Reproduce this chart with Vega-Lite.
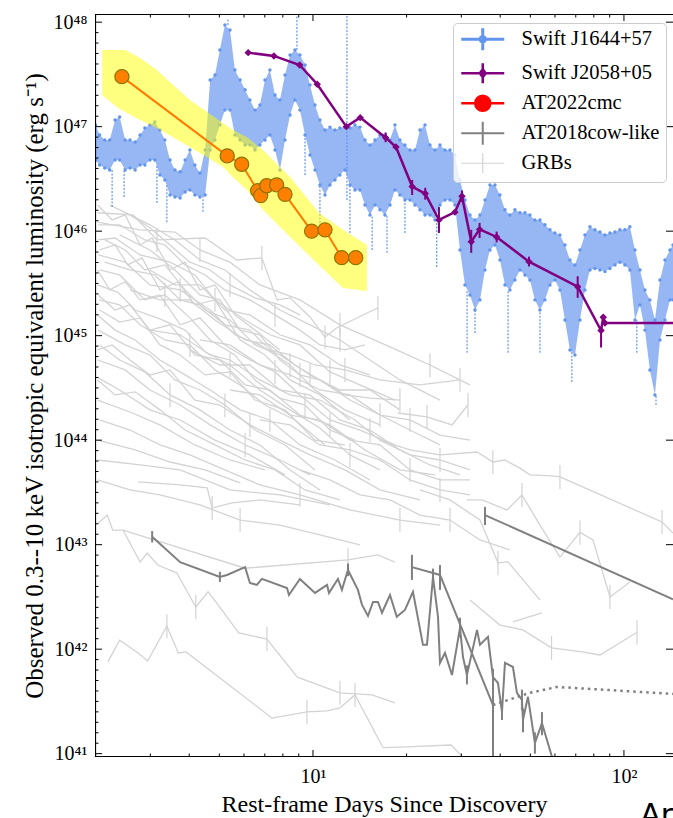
{
"$schema": "https://vega.github.io/schema/vega-lite/v6.json",
"width": 578, "height": 743,
"autosize": {"type": "none"},
"padding": {"left": 95, "top": 14, "right": 0, "bottom": 61},
"background": "white",
"title": {"text": "Ar", "orient": "bottom", "anchor": "end", "frame": "group", "font": "DejaVu Sans", "fontSize": 30, "fontWeight": "normal", "color": "#000", "offset": -15, "baseline": "top"},
"config": {
  "view": {"stroke": null},
  "axis": {"domain": false, "ticks": false, "labelColor": "#000", "titleColor": "#000", "labelFont": "Liberation Serif", "titleFont": "Liberation Serif", "grid": false, "titleFontWeight": "normal", "labelFontSize": 20, "titleFontSize": 24, "labelFlush": false, "labelOverlap": false}
},
"datasets": {
  "frame": [
    {"k":0,"t":143.8,"L":9.29e40},{"k":1,"t":1.991,"L":9.29e40},{"k":2,"t":1.991,"L":1.197e48},{"k":3,"t":143.8,"L":1.197e48}
  ],
  "hticks": [
    {"y":1e41,"x1":1.991,"x2":2.097},{"y":1e42,"x1":1.991,"x2":2.097},{"y":1e43,"x1":1.991,"x2":2.097},{"y":1e44,"x1":1.991,"x2":2.097},{"y":1e45,"x1":1.991,"x2":2.097},{"y":1e46,"x1":1.991,"x2":2.097},{"y":1e47,"x1":1.991,"x2":2.097},{"y":1e48,"x1":1.991,"x2":2.097},
    {"y":1e41,"x1":136.5,"x2":143.8},{"y":1e42,"x1":136.5,"x2":143.8},{"y":1e43,"x1":136.5,"x2":143.8},{"y":1e44,"x1":136.5,"x2":143.8},{"y":1e45,"x1":136.5,"x2":143.8},{"y":1e46,"x1":136.5,"x2":143.8},{"y":1e47,"x1":136.5,"x2":143.8},{"y":1e48,"x1":136.5,"x2":143.8},
    {"y":1.2589e41,"x1":1.991,"x2":2.043},{"y":1.5849e41,"x1":1.991,"x2":2.043},{"y":1.9953e41,"x1":1.991,"x2":2.043},{"y":2.5119e41,"x1":1.991,"x2":2.043},{"y":3.1623e41,"x1":1.991,"x2":2.043},{"y":3.9811e41,"x1":1.991,"x2":2.043},{"y":5.0119e41,"x1":1.991,"x2":2.043},{"y":6.3096e41,"x1":1.991,"x2":2.043},{"y":7.9433e41,"x1":1.991,"x2":2.043},
    {"y":1.2589e42,"x1":1.991,"x2":2.043},{"y":1.5849e42,"x1":1.991,"x2":2.043},{"y":1.9953e42,"x1":1.991,"x2":2.043},{"y":2.5119e42,"x1":1.991,"x2":2.043},{"y":3.1623e42,"x1":1.991,"x2":2.043},{"y":3.9811e42,"x1":1.991,"x2":2.043},{"y":5.0119e42,"x1":1.991,"x2":2.043},{"y":6.3096e42,"x1":1.991,"x2":2.043},{"y":7.9433e42,"x1":1.991,"x2":2.043},
    {"y":1.2589e43,"x1":1.991,"x2":2.043},{"y":1.5849e43,"x1":1.991,"x2":2.043},{"y":1.9953e43,"x1":1.991,"x2":2.043},{"y":2.5119e43,"x1":1.991,"x2":2.043},{"y":3.1623e43,"x1":1.991,"x2":2.043},{"y":3.9811e43,"x1":1.991,"x2":2.043},{"y":5.0119e43,"x1":1.991,"x2":2.043},{"y":6.3096e43,"x1":1.991,"x2":2.043},{"y":7.9433e43,"x1":1.991,"x2":2.043},
    {"y":1.2589e44,"x1":1.991,"x2":2.043},{"y":1.5849e44,"x1":1.991,"x2":2.043},{"y":1.9953e44,"x1":1.991,"x2":2.043},{"y":2.5119e44,"x1":1.991,"x2":2.043},{"y":3.1623e44,"x1":1.991,"x2":2.043},{"y":3.9811e44,"x1":1.991,"x2":2.043},{"y":5.0119e44,"x1":1.991,"x2":2.043},{"y":6.3096e44,"x1":1.991,"x2":2.043},{"y":7.9433e44,"x1":1.991,"x2":2.043},
    {"y":1.2589e45,"x1":1.991,"x2":2.043},{"y":1.5849e45,"x1":1.991,"x2":2.043},{"y":1.9953e45,"x1":1.991,"x2":2.043},{"y":2.5119e45,"x1":1.991,"x2":2.043},{"y":3.1623e45,"x1":1.991,"x2":2.043},{"y":3.9811e45,"x1":1.991,"x2":2.043},{"y":5.0119e45,"x1":1.991,"x2":2.043},{"y":6.3096e45,"x1":1.991,"x2":2.043},{"y":7.9433e45,"x1":1.991,"x2":2.043},
    {"y":1.2589e46,"x1":1.991,"x2":2.043},{"y":1.5849e46,"x1":1.991,"x2":2.043},{"y":1.9953e46,"x1":1.991,"x2":2.043},{"y":2.5119e46,"x1":1.991,"x2":2.043},{"y":3.1623e46,"x1":1.991,"x2":2.043},{"y":3.9811e46,"x1":1.991,"x2":2.043},{"y":5.0119e46,"x1":1.991,"x2":2.043},{"y":6.3096e46,"x1":1.991,"x2":2.043},{"y":7.9433e46,"x1":1.991,"x2":2.043},
    {"y":1.2589e47,"x1":1.991,"x2":2.043},{"y":1.5849e47,"x1":1.991,"x2":2.043},{"y":1.9953e47,"x1":1.991,"x2":2.043},{"y":2.5119e47,"x1":1.991,"x2":2.043},{"y":3.1623e47,"x1":1.991,"x2":2.043},{"y":3.9811e47,"x1":1.991,"x2":2.043},{"y":5.0119e47,"x1":1.991,"x2":2.043},{"y":6.3096e47,"x1":1.991,"x2":2.043},{"y":7.9433e47,"x1":1.991,"x2":2.043}
  ],
  "vticks": [
    {"x":10,"y1":9.29e40,"y2":1.084e41},{"x":100,"y1":9.29e40,"y2":1.084e41},
    {"x":10,"y1":1.026e48,"y2":1.197e48},{"x":100,"y1":1.026e48,"y2":1.197e48},
    {"x":2,"y1":9.29e40,"y2":1.003e41},{"x":3,"y1":9.29e40,"y2":1.003e41},{"x":4,"y1":9.29e40,"y2":1.003e41},{"x":5,"y1":9.29e40,"y2":1.003e41},{"x":6,"y1":9.29e40,"y2":1.003e41},{"x":7,"y1":9.29e40,"y2":1.003e41},{"x":8,"y1":9.29e40,"y2":1.003e41},{"x":9,"y1":9.29e40,"y2":1.003e41},
    {"x":20,"y1":9.29e40,"y2":1.003e41},{"x":30,"y1":9.29e40,"y2":1.003e41},{"x":40,"y1":9.29e40,"y2":1.003e41},{"x":50,"y1":9.29e40,"y2":1.003e41},{"x":60,"y1":9.29e40,"y2":1.003e41},{"x":70,"y1":9.29e40,"y2":1.003e41},{"x":80,"y1":9.29e40,"y2":1.003e41},{"x":90,"y1":9.29e40,"y2":1.003e41},
    {"x":2,"y1":1.108e48,"y2":1.197e48},{"x":3,"y1":1.108e48,"y2":1.197e48},{"x":4,"y1":1.108e48,"y2":1.197e48},{"x":5,"y1":1.108e48,"y2":1.197e48},{"x":6,"y1":1.108e48,"y2":1.197e48},{"x":7,"y1":1.108e48,"y2":1.197e48},{"x":8,"y1":1.108e48,"y2":1.197e48},{"x":9,"y1":1.108e48,"y2":1.197e48},
    {"x":20,"y1":1.108e48,"y2":1.197e48},{"x":30,"y1":1.108e48,"y2":1.197e48},{"x":40,"y1":1.108e48,"y2":1.197e48},{"x":50,"y1":1.108e48,"y2":1.197e48},{"x":60,"y1":1.108e48,"y2":1.197e48},{"x":70,"y1":1.108e48,"y2":1.197e48},{"x":80,"y1":1.108e48,"y2":1.197e48},{"x":90,"y1":1.108e48,"y2":1.197e48}
  ],
  "grb": [
    {"g":"G1","t":2.03,"L":1.50e46},{"g":"G1","t":2.64,"L":1.43e46},{"g":"G1","t":3.15,"L":8.24e45},{"g":"G1","t":4.50,"L":8.6e45},{"g":"G1","t":5.69,"L":5.30e45},{"g":"G1","t":6.85,"L":5.55e45},{"g":"G1","t":7.66,"L":2.20e45},{"g":"G1","t":8.44,"L":2.30e45},{"g":"G1","t":9.78,"L":1.51e45},{"g":"G1","t":10.93,"L":9.7e44},{"g":"G1","t":11.94,"L":1.19e45},{"g":"G1","t":16.18,"L":1.85e45},
    {"g":"G2","t":2.03,"L":1.22e46},{"g":"G2","t":2.78,"L":1.03e46},{"g":"G2","t":3.60,"L":9.8e45},{"g":"G2","t":4.33,"L":6.61e45},{"g":"G2","t":5.41,"L":5.05e45},{"g":"G2","t":6.75,"L":3.06e45},{"g":"G2","t":9.08,"L":2.20e45},{"g":"G2","t":12.21,"L":1.27e45},{"g":"G2","t":17.69,"L":7.8e44},{"g":"G2","t":23.78,"L":5.24e44},{"g":"G2","t":31.98,"L":3.38e44},
    {"g":"G3","t":2.03,"L":8.24e45},{"g":"G3","t":2.31,"L":8.6e45},{"g":"G3","t":2.78,"L":5.92e45},{"g":"G3","t":3.47,"L":5.05e45},{"g":"G3","t":4.17,"L":3.81e45},{"g":"G3","t":4.84,"L":2.20e45},{"g":"G3","t":6.05,"L":1.41e45},{"g":"G3","t":7.27,"L":1.02e45},{"g":"G3","t":9.08,"L":8.15e44},{"g":"G3","t":11.34,"L":4.5e44},{"g":"G3","t":14.16,"L":3.38e44},{"g":"G3","t":18.35,"L":2.42e44},
    {"g":"G4","t":2.04,"L":5.92e45},{"g":"G4","t":2.49,"L":5.05e45},{"g":"G4","t":2.99,"L":3.06e45},{"g":"G4","t":3.74,"L":2.74e45},{"g":"G4","t":4.67,"L":1.76e45},{"g":"G4","t":5.61,"L":1.02e45},{"g":"G4","t":6.75,"L":8.15e44},{"g":"G4","t":8.44,"L":5.24e44},{"g":"G4","t":10.15,"L":3.02e44},{"g":"G4","t":12.67,"L":1.95e44},{"g":"G4","t":16.42,"L":1.40e44},
    {"g":"G5","t":2.06,"L":4.25e45},{"g":"G5","t":2.39,"L":3.81e45},{"g":"G5","t":2.88,"L":2.20e45},{"g":"G5","t":3.34,"L":2.45e45},{"g":"G5","t":4.02,"L":1.48e45},{"g":"G5","t":4.67,"L":9.10e44},{"g":"G5","t":5.61,"L":6.54e44},{"g":"G5","t":6.51,"L":3.77e44},{"g":"G5","t":7.83,"L":2.53e44},{"g":"G5","t":9.43,"L":2.17e44},{"g":"G5","t":11.34,"L":1.25e44},{"g":"G5","t":13.65,"L":1.00e44},
    {"g":"G6","t":2.03,"L":3.06e45},{"g":"G6","t":2.36,"L":2.6e45},{"g":"G6","t":2.68,"L":1.76e45},{"g":"G6","t":3.22,"L":1.45e45},{"g":"G6","t":3.88,"L":1.13e45},{"g":"G6","t":4.50,"L":7.0e44},{"g":"G6","t":5.41,"L":5.24e44},{"g":"G6","t":6.75,"L":3.02e44},{"g":"G6","t":8.44,"L":1.95e44},{"g":"G6","t":10.53,"L":1.31e44},{"g":"G6","t":13.15,"L":7.22e43},{"g":"G6","t":16.42,"L":5.19e43},
    {"g":"G7","t":2.05,"L":2.20e45},{"g":"G7","t":2.39,"L":1.97e45},{"g":"G7","t":2.78,"L":1.27e45},{"g":"G7","t":3.34,"L":9.10e44},{"g":"G7","t":4.02,"L":8.15e44},{"g":"G7","t":4.84,"L":4.70e44},{"g":"G7","t":5.83,"L":3.38e44},{"g":"G7","t":7.01,"L":2.17e44},{"g":"G7","t":8.75,"L":1.56e44},{"g":"G7","t":10.93,"L":9.00e43},
    {"g":"G8","t":2.03,"L":1.58e45},{"g":"G8","t":2.31,"L":1.13e45},{"g":"G8","t":2.68,"L":9.10e44},{"g":"G8","t":3.22,"L":5.85e44},{"g":"G8","t":3.74,"L":4.5e44},{"g":"G8","t":4.67,"L":3.02e44},{"g":"G8","t":5.83,"L":1.95e44},{"g":"G8","t":7.27,"L":1.56e44},{"g":"G8","t":9.08,"L":9.00e43},{"g":"G8","t":11.77,"L":6.46e43},{"g":"G8","t":15.25,"L":4.16e43},
    {"g":"G9","t":2.04,"L":1.13e45},{"g":"G9","t":2.49,"L":8.15e44},{"g":"G9","t":2.99,"L":6.54e44},{"g":"G9","t":3.60,"L":3.77e44},{"g":"G9","t":4.33,"L":3.02e44},{"g":"G9","t":5.21,"L":2.17e44},{"g":"G9","t":6.51,"L":1.25e44},{"g":"G9","t":8.13,"L":9.00e43},{"g":"G9","t":10.15,"L":5.19e43},
    {"g":"G10","t":2.06,"L":8.15e44},{"g":"G10","t":2.39,"L":5.85e44},{"g":"G10","t":2.88,"L":4.5e44},{"g":"G10","t":3.47,"L":2.71e44},{"g":"G10","t":4.33,"L":1.95e44},{"g":"G10","t":5.41,"L":1.25e44},{"g":"G10","t":6.75,"L":9.00e43},{"g":"G10","t":8.44,"L":5.19e43},{"g":"G10","t":10.53,"L":3.34e43},
    {"g":"G11","t":2.03,"L":5.85e44},{"g":"G11","t":2.49,"L":4.70e44},{"g":"G11","t":2.99,"L":3.02e44},{"g":"G11","t":3.74,"L":2.17e44},{"g":"G11","t":4.67,"L":1.40e44},{"g":"G11","t":6.05,"L":9.00e43},{"g":"G11","t":7.83,"L":6.46e43},{"g":"G11","t":9.78,"L":4.65e43},
    {"g":"G12","t":2.04,"L":3.95e44},{"g":"G12","t":2.39,"L":3.02e44},{"g":"G12","t":2.99,"L":1.95e44},{"g":"G12","t":3.74,"L":1.56e44},{"g":"G12","t":4.84,"L":1.00e44},{"g":"G12","t":6.27,"L":7.22e43},{"g":"G12","t":8.13,"L":4.65e43},
    {"g":"G13","t":2.03,"L":2.42e44},{"g":"G13","t":2.58,"L":1.86e44},{"g":"G13","t":3.22,"L":1.40e44},{"g":"G13","t":4.17,"L":9.00e43},{"g":"G13","t":5.41,"L":6.46e43},{"g":"G13","t":7.01,"L":5.19e43},
    {"g":"G14","t":2.06,"L":1.56e44},{"g":"G14","t":2.58,"L":1.25e44},{"g":"G14","t":3.22,"L":9.00e43},{"g":"G14","t":4.02,"L":7.22e43},{"g":"G14","t":5.21,"L":5.19e43},{"g":"G14","t":6.75,"L":3.73e43},{"g":"G14","t":9.08,"L":2.99e43},{"g":"G14","t":13.15,"L":2.15e43},{"g":"G14","t":19.04,"L":1.72e43},{"g":"G14","t":25.61,"L":1.54e43},
    {"g":"G15","t":2.03,"L":1.00e44},{"g":"G15","t":2.68,"L":8.06e43},{"g":"G15","t":3.47,"L":6.18e43},{"g":"G15","t":4.50,"L":5.19e43},{"g":"G15","t":5.83,"L":3.9e43},
    {"g":"G16","t":2.04,"L":1.15e46},{"g":"G16","t":2.39,"L":1.15e46},{"g":"G16","t":2.88,"L":8.24e45},{"g":"G16","t":3.34,"L":7.38e45},{"g":"G16","t":3.88,"L":4.75e45},{"g":"G16","t":4.50,"L":3.81e45},{"g":"G16","t":5.21,"L":2.74e45},{"g":"G16","t":6.27,"L":2.20e45},{"g":"G16","t":7.55,"L":1.58e45},{"g":"G16","t":9.08,"L":1.13e45},{"g":"G16","t":10.53,"L":8.15e44},{"g":"G16","t":12.67,"L":7.30e44},{"g":"G16","t":14.70,"L":8.15e44},
    {"g":"G17","t":2.22,"L":1.78e46},{"g":"G17","t":2.58,"L":1.43e46},{"g":"G17","t":2.99,"L":1.08e46},{"g":"G17","t":3.47,"L":7.38e45},{"g":"G17","t":4.02,"L":5.05e45},{"g":"G17","t":4.67,"L":4.25e45},{"g":"G17","t":5.41,"L":3.06e45},{"g":"G17","t":6.51,"L":2.30e45},{"g":"G17","t":7.83,"L":1.97e45},{"g":"G17","t":9.08,"L":1.58e45},
    {"g":"G18","t":2.39,"L":9.20e45},{"g":"G18","t":2.99,"L":6.61e45},{"g":"G18","t":3.60,"L":4.25e45},{"g":"G18","t":4.33,"L":2.45e45},{"g":"G18","t":5.02,"L":2.20e45},{"g":"G18","t":5.83,"L":1.13e45},{"g":"G18","t":6.75,"L":1.02e45},{"g":"G18","t":7.83,"L":5.85e44},{"g":"G18","t":9.08,"L":4.21e44},{"g":"G18","t":10.53,"L":3.77e44},{"g":"G18","t":12.67,"L":2.71e44},{"g":"G18","t":15.25,"L":2.53e44},{"g":"G18","t":19.04,"L":2.42e44},
    {"g":"G19","t":2.14,"L":5.05e45},{"g":"G19","t":2.58,"L":4.25e45},{"g":"G19","t":3.10,"L":3.81e45},{"g":"G19","t":3.74,"L":2.20e45},{"g":"G19","t":4.33,"L":1.97e45},{"g":"G19","t":5.21,"L":1.27e45},{"g":"G19","t":6.27,"L":1.13e45},{"g":"G19","t":7.27,"L":7.30e44},{"g":"G19","t":8.44,"L":6.54e44},{"g":"G19","t":10.15,"L":5.24e44},{"g":"G19","t":12.67,"L":4.70e44},{"g":"G19","t":16.42,"L":3.77e44},{"g":"G19","t":22.08,"L":3.38e44},{"g":"G19","t":29.70,"L":3.77e44},
    {"g":"G20","t":2.58,"L":2.74e45},{"g":"G20","t":3.22,"L":2.20e45},{"g":"G20","t":4.02,"L":2.20e45},{"g":"G20","t":4.84,"L":1.41e45},{"g":"G20","t":6.05,"L":9.10e44},{"g":"G20","t":7.27,"L":8.15e44},{"g":"G20","t":8.75,"L":5.24e44},{"g":"G20","t":10.53,"L":3.77e44},{"g":"G20","t":13.15,"L":2.42e44},{"g":"G20","t":16.42,"L":1.74e44},{"g":"G20","t":20.51,"L":1.25e44},{"g":"G20","t":25.61,"L":9.00e43},
    {"g":"G21","t":2.99,"L":1.13e45},{"g":"G21","t":3.74,"L":1.02e45},{"g":"G21","t":4.67,"L":6.54e44},{"g":"G21","t":5.41,"L":5.85e44},{"g":"G21","t":6.75,"L":3.77e44},{"g":"G21","t":8.44,"L":2.71e44},{"g":"G21","t":10.53,"L":2.42e44},{"g":"G21","t":13.65,"L":1.56e44},{"g":"G21","t":16.42,"L":1.00e44},{"g":"G21","t":20.51,"L":7.22e43},{"g":"G21","t":25.61,"L":6.46e43},{"g":"G21","t":31.98,"L":5.19e43},
    {"g":"G22","t":4.02,"L":7.30e44},{"g":"G22","t":5.02,"L":5.24e44},{"g":"G22","t":6.27,"L":5.24e44},{"g":"G22","t":7.83,"L":3.02e44},{"g":"G22","t":9.78,"L":2.71e44},{"g":"G22","t":12.21,"L":1.56e44},{"g":"G22","t":15.25,"L":1.25e44},{"g":"G22","t":19.04,"L":8.06e43},{"g":"G22","t":23.78,"L":5.79e43},{"g":"G22","t":29.70,"L":4.65e43},
    {"g":"G23","t":5.41,"L":3.02e44},{"g":"G23","t":6.75,"L":2.71e44},{"g":"G23","t":8.44,"L":1.74e44},{"g":"G23","t":10.53,"L":1.56e44},{"g":"G23","t":13.15,"L":1.00e44},{"g":"G23","t":16.42,"L":9.00e43},{"g":"G23","t":20.51,"L":5.19e43},{"g":"G23","t":25.61,"L":4.16e43},{"g":"G23","t":31.98,"L":4.16e43},
    {"g":"G24","t":2.03,"L":6.46e43},{"g":"G24","t":2.78,"L":5.79e43},{"g":"G24","t":3.74,"L":5.19e43},{"g":"G24","t":5.41,"L":3.34e43},{"g":"G24","t":7.83,"L":2.99e43},{"g":"G24","t":11.34,"L":2.40e43},
    {"g":"G25","t":2.03,"L":1.78e46},{"g":"G25","t":2.26,"L":1.28e46},{"g":"G25","t":2.49,"L":1.43e46},{"g":"G25","t":2.78,"L":7.38e45},{"g":"G25","t":3.04,"L":8.6e45},{"g":"G25","t":3.47,"L":4.25e45},{"g":"G25","t":3.88,"L":5.05e45},{"g":"G25","t":4.33,"L":2.74e45},{"g":"G25","t":4.84,"L":3.06e45},{"g":"G25","t":5.61,"L":1.58e45},{"g":"G25","t":6.51,"L":1.13e45},{"g":"G25","t":7.83,"L":7.30e44},
    {"g":"G26","t":2.06,"L":6.61e45},{"g":"G26","t":2.31,"L":7.38e45},{"g":"G26","t":2.54,"L":4.75e45},{"g":"G26","t":2.82,"L":5.55e45},{"g":"G26","t":3.22,"L":2.74e45},{"g":"G26","t":3.68,"L":3.28e45},{"g":"G26","t":4.17,"L":1.97e45},{"g":"G26","t":4.84,"L":2.20e45},{"g":"G26","t":5.83,"L":9.10e44},{"g":"G26","t":7.01,"L":6.54e44},{"g":"G26","t":8.44,"L":3.77e44},{"g":"G26","t":10.53,"L":2.71e44},{"g":"G26","t":13.15,"L":1.56e44},
    {"g":"G27","t":2.03,"L":4.25e45},{"g":"G27","t":2.22,"L":2.74e45},{"g":"G27","t":2.49,"L":3.28e45},{"g":"G27","t":2.78,"L":2.20e45},{"g":"G27","t":3.22,"L":2.45e45},{"g":"G27","t":3.74,"L":1.27e45},{"g":"G27","t":4.33,"L":1.48e45},{"g":"G27","t":5.21,"L":8.15e44},{"g":"G27","t":6.27,"L":5.85e44},{"g":"G27","t":7.55,"L":4.5e44},{"g":"G27","t":9.08,"L":2.71e44},{"g":"G27","t":11.34,"L":1.56e44},{"g":"G27","t":14.16,"L":1.25e44},{"g":"G27","t":18.35,"L":9.00e43},
    {"g":"G28","t":2.04,"L":2.45e45},{"g":"G28","t":2.31,"L":1.76e45},{"g":"G28","t":2.58,"L":1.97e45},{"g":"G28","t":2.99,"L":1.13e45},{"g":"G28","t":3.47,"L":1.27e45},{"g":"G28","t":4.17,"L":6.54e44},{"g":"G28","t":5.02,"L":5.85e44},{"g":"G28","t":6.05,"L":3.38e44},{"g":"G28","t":7.27,"L":3.02e44},{"g":"G28","t":9.08,"L":1.74e44},{"g":"G28","t":11.34,"L":1.40e44},{"g":"G28","t":14.70,"L":8.06e43},{"g":"G28","t":19.04,"L":5.19e43},{"g":"G28","t":24.68,"L":4.65e43},
    {"g":"G29","t":2.06,"L":1.76e45},{"g":"G29","t":2.39,"L":1.35e45},{"g":"G29","t":2.78,"L":1.48e45},{"g":"G29","t":3.22,"L":8.15e44},{"g":"G29","t":3.74,"L":6.54e44},{"g":"G29","t":4.50,"L":4.21e44},{"g":"G29","t":5.41,"L":4.5e44},{"g":"G29","t":6.51,"L":2.42e44},{"g":"G29","t":8.13,"L":1.95e44},{"g":"G29","t":10.15,"L":1.00e44},{"g":"G29","t":12.67,"L":9.00e43},
    {"g":"G30","t":2.03,"L":7.30e44},{"g":"G30","t":2.26,"L":8.15e44},{"g":"G30","t":2.58,"L":5.85e44},{"g":"G30","t":2.99,"L":4.21e44},{"g":"G30","t":3.47,"L":4.70e44},{"g":"G30","t":4.17,"L":2.42e44},{"g":"G30","t":5.02,"L":2.17e44},{"g":"G30","t":6.27,"L":1.40e44},{"g":"G30","t":7.83,"L":1.00e44},{"g":"G30","t":9.78,"L":7.22e43},{"g":"G30","t":12.67,"L":5.19e43},{"g":"G30","t":16.42,"L":3.34e43},{"g":"G30","t":22.08,"L":2.68e43},
    {"g":"G31","t":2.03,"L":3.77e44},{"g":"G31","t":2.31,"L":2.71e44},{"g":"G31","t":2.68,"L":2.9e44},{"g":"G31","t":3.22,"L":1.95e44},{"g":"G31","t":3.88,"L":1.25e44},{"g":"G31","t":4.84,"L":9.00e43},{"g":"G31","t":6.05,"L":6.46e43},{"g":"G31","t":7.55,"L":5.19e43},{"g":"G31","t":9.43,"L":3.34e43},{"g":"G31","t":12.21,"L":2.68e43},
    {"g":"G32","t":2.14,"L":8.24e45},{"g":"G32","t":2.49,"L":6.61e45},{"g":"G32","t":2.88,"L":4.25e45},{"g":"G32","t":3.34,"L":4.75e45},{"g":"G32","t":3.88,"L":2.74e45},{"g":"G32","t":4.50,"L":1.76e45},{"g":"G32","t":5.41,"L":1.41e45},{"g":"G32","t":6.51,"L":8.15e44},{"g":"G32","t":7.83,"L":6.54e44},{"g":"G32","t":9.78,"L":4.21e44},{"g":"G32","t":12.21,"L":3.02e44},{"g":"G32","t":15.25,"L":3.02e44},{"g":"G32","t":19.04,"L":1.95e44},
    {"g":"G33","t":2.58,"L":1.43e46},{"g":"G33","t":2.99,"L":1.15e46},{"g":"G33","t":3.60,"L":8.24e45},{"g":"G33","t":4.33,"L":5.30e45},{"g":"G33","t":5.21,"L":4.25e45},{"g":"G33","t":6.27,"L":2.74e45},{"g":"G33","t":7.83,"L":1.76e45},{"g":"G33","t":9.78,"L":1.27e45},{"g":"G33","t":12.21,"L":9.10e44},{"g":"G33","t":15.25,"L":5.85e44},{"g":"G33","t":19.04,"L":3.77e44},{"g":"G33","t":25.61,"L":2.42e44},
    {"g":"G34","t":2.99,"L":4.25e45},{"g":"G34","t":3.60,"L":3.06e45},{"g":"G34","t":4.33,"L":3.06e45},{"g":"G34","t":5.21,"L":1.76e45},{"g":"G34","t":6.27,"L":1.58e45},{"g":"G34","t":7.83,"L":1.02e45},{"g":"G34","t":9.78,"L":8.15e44},{"g":"G34","t":12.21,"L":5.24e44},{"g":"G34","t":15.25,"L":4.21e44},
    {"g":"G35","t":4.33,"L":9.10e44},{"g":"G35","t":5.41,"L":8.15e44},{"g":"G35","t":6.75,"L":5.24e44},{"g":"G35","t":8.44,"L":4.21e44},{"g":"G35","t":10.53,"L":3.02e44},{"g":"G35","t":13.15,"L":2.71e44},{"g":"G35","t":16.42,"L":1.74e44},{"g":"G35","t":20.51,"L":1.56e44},{"g":"G35","t":25.61,"L":1.12e44},{"g":"G35","t":31.98,"L":1.00e44},
    {"g":"G36","t":6.75,"L":1.56e44},{"g":"G36","t":8.44,"L":1.40e44},{"g":"G36","t":10.53,"L":9.00e43},{"g":"G36","t":13.15,"L":8.06e43},{"g":"G36","t":16.42,"L":6.46e43},{"g":"G36","t":20.51,"L":4.16e43},{"g":"G36","t":25.61,"L":3.34e43},{"g":"G36","t":31.98,"L":2.99e43},
    {"g":"G37","t":2.03,"L":4.16e43},{"g":"G37","t":2.58,"L":3.34e43},{"g":"G37","t":3.22,"L":2.99e43},{"g":"G37","t":4.33,"L":2.40e43},{"g":"G37","t":5.83,"L":1.72e43},{"g":"G37","t":7.83,"L":1.54e43},{"g":"G37","t":10.53,"L":1.24e43},{"g":"G37","t":14.16,"L":9.93e42},
    {"g":"G38","t":9.08,"L":5.19e43},{"g":"G38","t":11.34,"L":4.16e43},{"g":"G38","t":14.16,"L":2.99e43},{"g":"G38","t":17.69,"L":2.68e43},{"g":"G38","t":22.08,"L":1.92e43},{"g":"G38","t":27.58,"L":1.72e43},{"g":"G38","t":34.44,"L":1.11e43},{"g":"G38","t":42.99,"L":8.90e42},
    {"g":"R1","t":18.75,"L":1.82e44},{"g":"R1","t":23.26,"L":1.67e44},{"g":"R1","t":27.99,"L":1.40e44},{"g":"R1","t":31.51,"L":2.17e44},
    {"g":"R2","t":16.42,"L":1.00e44},{"g":"R2","t":20.51,"L":8.06e43},{"g":"R2","t":25.61,"L":7.22e43},{"g":"R2","t":33.7,"L":7.7e43},{"g":"R2","t":37.9,"L":6.18e43},{"g":"R2","t":41.44,"L":6.46e43},{"g":"R2","t":46.30,"L":5.4e43},{"g":"R2","t":49.85,"L":4.65e43},{"g":"R2","t":58.7,"L":4.55e43},{"g":"R2","t":62.26,"L":4.45e43},{"g":"R2","t":132.6,"L":1.65e43},{"g":"R2","t":143.8,"L":1.29e43},
    {"g":"R3","t":31.27,"L":2.68e43},{"g":"R3","t":34.95,"L":2.68e43},{"g":"R3","t":42.06,"L":2.15e43},{"g":"R3","t":46.99,"L":2.99e43},{"g":"R3","t":53.69,"L":1.54e43},{"g":"R3","t":62.26,"L":7.6e42},{"g":"R3","t":72.20,"L":1.31e43},{"g":"R3","t":79.5,"L":1.11e43},{"g":"R3","t":90.16,"L":3.16e42},{"g":"R3","t":104.5,"L":4.4e42},
    {"g":"R4","t":22.08,"L":3.34e43},{"g":"R4","t":27.58,"L":2.68e43},{"g":"R4","t":34.44,"L":1.72e43},{"g":"R4","t":39.35,"L":6.7e42},{"g":"R4","t":42.37,"L":6.84e42},{"g":"R4","t":53.69,"L":2.96e42},
    {"g":"R5","t":43.96,"L":1.82e42},{"g":"R5","t":54.5,"L":2.22e42},
    {"g":"R6","t":31.98,"L":2.96e42},{"g":"R6","t":39.93,"L":1.70e42},{"g":"R6","t":47.35,"L":1.53e42},{"g":"R6","t":58.5,"L":1.03e42},{"g":"R6","t":73.3,"L":9.4e41},{"g":"R6","t":83.73,"L":8.80e41},{"g":"R6","t":110.2,"L":1.45e42},
    {"g":"A","t":2.04,"L":1.61e43},{"g":"A","t":2.18,"L":1.92e43},{"g":"A","t":2.27,"L":1.38e43},{"g":"A","t":2.45,"L":1.38e43},{"g":"A","t":2.78,"L":6.8e42},{"g":"A","t":2.93,"L":8.3e42},{"g":"A","t":3.17,"L":6.39e42},{"g":"A","t":3.65,"L":5.35e42},{"g":"A","t":4.20,"L":2.53e42},{"g":"A","t":4.60,"L":3.53e42},{"g":"A","t":4.90,"L":2.77e42},{"g":"A","t":5.77,"L":1.43e42},{"g":"A","t":7.11,"L":1.25e42},{"g":"A","t":8.91,"L":5.4e41},{"g":"A","t":12.21,"L":3.82e41},{"g":"A","t":15.48,"L":3.65e41},{"g":"A","t":18.35,"L":3.06e41},
    {"g":"B","t":2.45,"L":1.38e43},{"g":"B","t":6.05,"L":5.95e42},{"g":"B","t":12.96,"L":7.14e42},{"g":"B","t":16.18,"L":7.97e42},{"g":"B","t":18.35,"L":6.8e42},
    {"g":"C","t":2.19,"L":7.55e41},{"g":"C","t":2.39,"L":1.22e42},{"g":"C","t":2.74,"L":9.2e41},{"g":"C","t":2.94,"L":7.7e41},{"g":"C","t":3.39,"L":1.66e42},{"g":"C","t":3.69,"L":9.2e41},{"g":"C","t":3.91,"L":9.4e41},{"g":"C","t":7.38,"L":2.19e41},{"g":"C","t":9.56,"L":2.51e41},{"g":"C","t":11.10,"L":2.57e41},{"g":"C","t":12.21,"L":2.74e41},{"g":"C","t":13.65,"L":3.65e41},{"g":"C","t":16.8,"L":1.14e41},{"g":"C","t":20.0,"L":1.16e41},{"g":"C","t":27.79,"L":1.21e41},{"g":"C","t":31.27,"L":8.5e40},
    {"g":"D","t":2.74,"L":3.98e43},{"g":"D","t":3.74,"L":3.73e43},{"g":"D","t":4.57,"L":3.49e43},{"g":"D","t":4.74,"L":2.24e43},{"g":"D","t":5.49,"L":2.51e43},{"g":"D","t":6.75,"L":2.68e43},{"g":"D","t":9.08,"L":2.40e43}
  ],
  "grberr": [
    {"t":3.15,"lo":6.3e45,"hi":1.07e46},{"t":6.85,"lo":4.26e45,"hi":7.2e45},{"t":10.93,"lo":7.4e44,"hi":1.26e45},{"t":16.18,"lo":1.42e45,"hi":2.4e45},{"t":4.33,"lo":5.07e45,"hi":8.6e45},{"t":12.21,"lo":9.7e44,"hi":1.65e45},{"t":23.78,"lo":4.0e44,"hi":6.8e44},{"t":4.84,"lo":1.69e45,"hi":2.86e45},{"t":11.34,"lo":3.45e44,"hi":5.85e44},{"t":3.74,"lo":2.1e45,"hi":3.56e45},
    {"t":8.44,"lo":4.0e44,"hi":6.8e44},{"t":3.34,"lo":1.88e45,"hi":3.2e45},{"t":9.43,"lo":1.66e44,"hi":2.8e44},{"t":5.41,"lo":4.0e44,"hi":6.8e44},{"t":13.15,"lo":5.5e43,"hi":9.4e43},{"t":4.02,"lo":6.25e44,"hi":1.06e45},{"t":7.27,"lo":1.2e44,"hi":2.0e44},{"t":5.21,"lo":1.66e44,"hi":2.8e44},{"t":3.47,"lo":2.08e44,"hi":3.5e44},{"t":6.05,"lo":6.9e43,"hi":1.17e44},
    {"t":9.08,"lo":2.3e43,"hi":3.9e43},{"t":19.04,"lo":1.32e43,"hi":2.24e43},{"t":7.55,"lo":1.21e45,"hi":2.05e45},{"t":5.41,"lo":2.35e45,"hi":3.98e45},{"t":9.08,"lo":3.23e44,"hi":5.5e44},{"t":19.04,"lo":1.86e44,"hi":3.15e44},{"t":12.67,"lo":3.6e44,"hi":6.1e44},{"t":29.70,"lo":2.9e44,"hi":4.9e44},{"t":16.42,"lo":1.33e44,"hi":2.26e44},{"t":25.61,"lo":4.95e43,"hi":8.4e43},
    {"t":15.25,"lo":9.6e43,"hi":1.63e44},{"t":20.51,"lo":4.0e43,"hi":6.75e43},{"t":23.26,"lo":1.28e44,"hi":2.17e44},{"t":31.51,"lo":1.66e44,"hi":2.82e44},{"t":37.9,"lo":4.74e43,"hi":8.0e43},{"t":62.26,"lo":3.4e43,"hi":5.8e43},{"t":132.6,"lo":1.26e43,"hi":2.15e43},{"t":46.99,"lo":2.3e43,"hi":3.9e43},{"t":72.20,"lo":1.0e43,"hi":1.7e43},{"t":90.16,"lo":2.42e42,"hi":4.1e42},
    {"t":39.35,"lo":5.1e42,"hi":8.7e42},{"t":58.5,"lo":7.9e41,"hi":1.34e42},{"t":110.2,"lo":1.11e42,"hi":1.89e42},{"t":4.20,"lo":1.94e42,"hi":3.3e42},{"t":7.11,"lo":9.6e41,"hi":1.63e42},{"t":12.21,"lo":2.93e41,"hi":4.97e41},{"t":3.39,"lo":1.27e42,"hi":2.16e42},{"t":9.56,"lo":1.92e41,"hi":3.27e41},{"t":13.65,"lo":2.8e41,"hi":4.75e41},{"t":12.96,"lo":5.48e42,"hi":9.3e42},
    {"t":4.74,"lo":1.72e43,"hi":2.92e43},{"t":7.55,"lo":3.45e44,"hi":5.85e44},{"t":11.34,"lo":1.07e44,"hi":1.82e44},{"t":6.27,"lo":1.07e44,"hi":1.82e44},{"t":9.78,"lo":3.23e44,"hi":5.5e44},{"t":12.21,"lo":7.0e44,"hi":1.19e45},{"t":20.51,"lo":1.2e44,"hi":2.03e44},{"t":25.61,"lo":2.56e43,"hi":4.35e43},{"t":27.58,"lo":1.32e43,"hi":2.24e43},{"t":5.83,"lo":1.32e43,"hi":2.24e43}
  ],
  "cow": [
    {"g":"C1","t":3.04,"L":1.19e43},{"g":"C1","t":3.74,"L":6.8e42},{"g":"C1","t":5.02,"L":4.9e42},{"g":"C1","t":5.29,"L":5.13e42},{"g":"C1","t":6.05,"L":6.1e42},{"g":"C1","t":6.27,"L":4.3e42},{"g":"C1","t":6.60,"L":4.12e42},{"g":"C1","t":6.85,"L":4.7e42},{"g":"C1","t":8.25,"L":3.85e42},{"g":"C1","t":8.37,"L":3.30e42},{"g":"C1","t":9.08,"L":4.7e42},{"g":"C1","t":10.15,"L":3.45e42},{"g":"C1","t":11.10,"L":4.12e42},{"g":"C1","t":11.26,"L":3.45e42},{"g":"C1","t":12.03,"L":4.7e42},{"g":"C1","t":12.39,"L":3.69e42},{"g":"C1","t":12.96,"L":5.73e42},{"g":"C1","t":13.95,"L":3.69e42},{"g":"C1","t":14.38,"L":2.65e42},{"g":"C1","t":15.03,"L":2.08e42},{"g":"C1","t":15.6,"L":2.83e42},{"g":"C1","t":16.18,"L":2.83e42},{"g":"C1","t":16.67,"L":2.23e42},{"g":"C1","t":17.69,"L":3.30e42},{"g":"C1","t":18.6,"L":2.04e42},{"g":"C1","t":19.76,"L":2.37e42},{"g":"C1","t":20.97,"L":3.53e42},{"g":"C1","t":22.58,"L":1.10e42},{"g":"C1","t":23.26,"L":1.10e42},{"g":"C1","t":24.32,"L":4.9e42},{"g":"C1","t":25.24,"L":2.04e42},{"g":"C1","t":25.61,"L":7.4e41},{"g":"C1","t":26.58,"L":9.2e41},{"g":"C1","t":27.99,"L":5.66e41},{"g":"C1","t":29.70,"L":1.60e42},{"g":"C1","t":30.37,"L":8.4e41},{"g":"C1","t":31.27,"L":5.66e41},{"g":"C1","t":33.69,"L":1.53e42},{"g":"C1","t":34.44,"L":1.10e42},{"g":"C1","t":36.54,"L":1.31e42},{"g":"C1","t":37.92,"L":5.4e41},{"g":"C1","t":39.35,"L":4.74e41},{"g":"C1","t":40.53,"L":2.51e41},{"g":"C1","t":41.44,"L":7.4e41},{"g":"C1","t":43.96,"L":6.75e41},{"g":"C1","t":45.28,"L":3.82e41},{"g":"C1","t":46.99,"L":3.27e41},{"g":"C1","t":47.35,"L":2.10e41},{"g":"C1","t":49.13,"L":3.5e41},{"g":"C1","t":51.73,"L":1.27e41},{"g":"C1","t":54.5,"L":1.96e41},{"g":"C1","t":59.1,"L":8.7e40},
    {"g":"C2","t":20.81,"L":6.1e42},{"g":"C2","t":25.61,"L":5.13e42},{"g":"C2","t":37.92,"L":2.92e41},
    {"g":"C3","t":35.74,"L":1.92e43},{"g":"C3","t":143.8,"L":3.0e42}
  ],
  "cowd": [
    {"t":37.92,"L":2.92e41},{"t":49.85,"L":3.82e41},{"t":60.9,"L":4.35e41},{"t":143.8,"L":3.73e41}
  ],
  "cowerr": [
    {"t":3.04,"lo":1.05e43,"hi":1.35e43},{"t":37.92,"lo":8.0e40,"hi":6.5e41},{"t":20.81,"lo":4.6e42,"hi":8.0e42},{"t":25.61,"lo":3.69e42,"hi":6.39e42},{"t":35.74,"lo":1.54e43,"hi":2.30e43},{"t":5.02,"lo":4.4e42,"hi":5.5e42},{"t":12.96,"lo":5.0e42,"hi":6.6e42},{"t":24.32,"lo":4.0e42,"hi":5.9e42},{"t":29.70,"lo":1.3e42,"hi":2.0e42},{"t":31.27,"lo":4.6e41,"hi":7.0e41},{"t":47.35,"lo":1.6e41,"hi":2.7e41},{"t":51.73,"lo":1.0e41,"hi":1.6e41},{"t":54.5,"lo":1.5e41,"hi":2.5e41},{"t":46.99,"lo":2.6e41,"hi":4.1e41},{"t":40.53,"lo":2.1e41,"hi":3.0e41}
  ],
  "j1644": [
    {"t":2.0,"hi":1.04e47,"lo":4.80e46},{"t":2.06,"hi":8.33e46,"lo":4.30e46},{"t":2.14,"hi":7.46e46,"lo":4.03e46},{"t":2.22,"hi":7.46e46,"lo":3.85e46},{"t":2.31,"hi":1.16e47,"lo":4.80e46},{"t":2.39,"hi":1.24e47,"lo":4.80e46},{"t":2.49,"hi":7.46e46,"lo":3.85e46},{"t":2.58,"hi":7.46e46,"lo":4.03e46},{"t":2.68,"hi":7.14e46,"lo":3.85e46},{"t":2.78,"hi":8.33e46,"lo":4.30e46},{"t":2.88,"hi":9.7e46,"lo":4.30e46},{"t":2.99,"hi":1.04e47,"lo":4.80e46},{"t":3.10,"hi":1.11e47,"lo":4.80e46},{"t":3.22,"hi":9.30e46,"lo":3.45e46},{"t":3.34,"hi":7.46e46,"lo":3.09e46},{"t":3.47,"hi":4.80e46,"lo":2.22e46},{"t":3.60,"hi":3.85e46,"lo":2.12e46},{"t":3.74,"hi":3.7e46,"lo":2.08e46},{"t":3.88,"hi":4.80e46,"lo":2.37e46},{"t":4.02,"hi":5.98e46,"lo":2.48e46},{"t":4.17,"hi":4.30e46,"lo":2.22e46},{"t":4.33,"hi":3.6e46,"lo":2.12e46},{"t":4.50,"hi":5.98e46,"lo":2.22e46},{"t":4.67,"hi":2.80e47,"lo":5.98e46},{"t":4.84,"hi":3.12e47,"lo":7.46e46},{"t":5.02,"hi":5.42e47,"lo":1.04e47},{"t":5.21,"hi":9.40e47,"lo":1.44e47},{"t":5.41,"hi":8.42e47,"lo":1.44e47},{"t":5.61,"hi":3.49e47,"lo":8.33e46},{"t":5.83,"hi":2.80e47,"lo":7.46e46},{"t":6.05,"hi":2.25e47,"lo":6.68e46},{"t":6.27,"hi":1.80e47,"lo":6.68e46},{"t":6.51,"hi":1.44e47,"lo":5.98e46},{"t":6.75,"hi":1.61e47,"lo":6.68e46},{"t":7.01,"hi":2.80e47,"lo":7.46e46},{"t":7.27,"hi":3.49e47,"lo":8.33e46},{"t":7.55,"hi":2.01e47,"lo":5.98e46},{"t":7.83,"hi":1.80e47,"lo":3.85e46},{"t":8.13,"hi":3.12e47,"lo":7.46e46},{"t":8.44,"hi":4.86e47,"lo":1.29e47},{"t":8.75,"hi":5.42e47,"lo":1.80e47},{"t":9.08,"hi":4.86e47,"lo":1.44e47},{"t":9.43,"hi":3.89e47,"lo":8.33e46},{"t":9.78,"hi":2.51e47,"lo":5.36e46},{"t":10.15,"hi":1.61e47,"lo":3.85e46},{"t":10.53,"hi":1.16e47,"lo":2.77e46},{"t":10.93,"hi":9.30e46,"lo":2.22e46},{"t":11.34,"hi":9.9e46,"lo":2.77e46},{"t":11.77,"hi":9.30e46,"lo":3.09e46},{"t":12.21,"hi":9.7e46,"lo":3.45e46},{"t":12.67,"hi":9.9e46,"lo":3.85e46},{"t":13.15,"hi":9.7e46,"lo":2.77e46},{"t":13.65,"hi":1.04e47,"lo":2.48e46},{"t":14.16,"hi":9.9e46,"lo":2.48e46},{"t":14.70,"hi":7.46e46,"lo":1.78e46},{"t":15.25,"hi":6.68e46,"lo":1.43e46},{"t":15.83,"hi":7.46e46,"lo":1.78e46},{"t":16.42,"hi":8.33e46,"lo":1.60e46},{"t":17.04,"hi":8.33e46,"lo":1.43e46},{"t":17.69,"hi":7.46e46,"lo":1.78e46},{"t":18.35,"hi":1.04e47,"lo":2.48e46},{"t":19.04,"hi":7.46e46,"lo":2.22e46},{"t":19.76,"hi":6.68e46,"lo":1.99e46},{"t":20.51,"hi":5.98e46,"lo":1.99e46},{"t":21.28,"hi":5.98e46,"lo":1.78e46},{"t":22.08,"hi":9.30e46,"lo":1.60e46},{"t":22.92,"hi":1.04e47,"lo":1.43e46},{"t":23.78,"hi":6.68e46,"lo":1.43e46},{"t":24.68,"hi":5.98e46,"lo":1.28e46},{"t":25.61,"hi":6.68e46,"lo":1.78e46},{"t":26.58,"hi":5.98e46,"lo":1.99e46},{"t":27.58,"hi":5.98e46,"lo":1.99e46},{"t":28.62,"hi":5.36e46,"lo":1.78e46},{"t":29.70,"hi":3.09e46,"lo":6.61e45},{"t":30.82,"hi":1.99e46,"lo":3.06e45},{"t":31.98,"hi":1.43e46,"lo":2.45e45},{"t":33.19,"hi":1.28e46,"lo":1.76e45},{"t":34.44,"hi":1.43e46,"lo":2.20e45},{"t":35.74,"hi":1.99e46,"lo":4.25e45},{"t":37.08,"hi":2.77e46,"lo":6.61e45},{"t":38.48,"hi":2.77e46,"lo":7.38e45},{"t":39.93,"hi":2.22e46,"lo":5.30e45},{"t":41.44,"hi":1.60e46,"lo":3.06e45},{"t":42.99,"hi":1.43e46,"lo":2.74e45},{"t":44.61,"hi":1.60e46,"lo":3.41e45},{"t":46.30,"hi":1.5e46,"lo":4.25e45},{"t":48.05,"hi":1.5e46,"lo":3.81e45},{"t":49.85,"hi":1.43e46,"lo":3.41e45},{"t":51.73,"hi":1.28e46,"lo":2.20e45},{"t":53.69,"hi":1.28e46,"lo":1.76e45},{"t":55.72,"hi":1.15e46,"lo":2.20e45},{"t":57.82,"hi":1.03e46,"lo":3.06e45},{"t":59.99,"hi":9.6e45,"lo":3.41e45},{"t":62.26,"hi":9.20e45,"lo":2.74e45},{"t":64.61,"hi":7.38e45,"lo":1.41e45},{"t":67.05,"hi":5.30e45,"lo":7.30e44},{"t":69.57,"hi":4.75e45,"lo":6.54e44},{"t":72.20,"hi":6.61e45,"lo":1.41e45},{"t":74.92,"hi":9.20e45,"lo":2.74e45},{"t":77.75,"hi":1.10e46,"lo":4.25e45},{"t":80.69,"hi":1.03e46,"lo":4.4e45},{"t":83.73,"hi":9.8e45,"lo":4.25e45},{"t":86.89,"hi":9.20e45,"lo":4.1e45},{"t":90.16,"hi":9.6e45,"lo":4.4e45},{"t":93.57,"hi":9.8e45,"lo":4.75e45},{"t":97.07,"hi":1.03e46,"lo":5.05e45},{"t":100.7,"hi":1.03e46,"lo":4.75e45},{"t":104.5,"hi":1.10e46,"lo":4.25e45},{"t":108.5,"hi":6.61e45,"lo":1.41e45},{"t":112.6,"hi":4.25e45,"lo":1.97e45},{"t":116.8,"hi":2.74e45,"lo":1.13e45},{"t":121.2,"hi":2.20e45,"lo":4.70e44},{"t":125.8,"hi":1.41e45,"lo":2.71e44},{"t":130.6,"hi":3.41e45,"lo":9.10e44},{"t":135.5,"hi":5.30e45,"lo":1.41e45},{"t":140.6,"hi":6.61e45,"lo":2.20e45},{"t":143.8,"hi":7.38e45,"lo":2.20e45}
  ],
  "j1644s": [
    {"t":2.26,"lo":1.70e46,"hi":4.0e46},{"t":2.47,"lo":2.12e46,"hi":4.0e46},{"t":3.15,"lo":1.86e46,"hi":4.30e46},{"t":3.39,"lo":1.22e46,"hi":2.77e46},{"t":4.43,"lo":1.53e46,"hi":2.22e46},{"t":9.43,"lo":3.45e46,"hi":8.33e46},{"t":10.53,"lo":1.2e46,"hi":2.77e46},{"t":13.15,"lo":9.6e45,"hi":2.77e46},{"t":15.5,"lo":6.61e45,"hi":1.43e46},{"t":17.3,"lo":6.2e45,"hi":1.43e46},{"t":19.76,"lo":9.6e45,"hi":1.99e46},{"t":25.0,"lo":4.55e45,"hi":1.28e46},{"t":31.3,"lo":6.85e44,"hi":2.74e45},{"t":33.19,"lo":1.06e45,"hi":1.76e45},{"t":42.4,"lo":6.85e44,"hi":2.74e45},{"t":53.69,"lo":6.85e44,"hi":1.76e45},{"t":68.0,"lo":3.6e44,"hi":7.30e44},{"t":110,"lo":6.85e44,"hi":1.41e45},{"t":126.8,"lo":2.17e44,"hi":2.71e44},{"t":5.33,"lo":9.4e47,"hi":1.07e48},{"t":8.88,"lo":5.42e47,"hi":1.25e48},{"t":12.86,"lo":1.99e46,"hi":1.25e48}
  ],
  "j2058": [
    {"t":6.19,"L":5.11e47},{"t":7.49,"L":4.75e47},{"t":9.06,"L":3.89e47},{"t":10.32,"L":2.55e47},{"t":12.80,"L":1.00e47},{"t":14.19,"L":1.22e47},{"t":17.13,"L":7.85e46,"lo":7.1e46,"hi":8.8e46},{"t":18.49,"L":6.39e46},{"t":20.84,"L":2.67e46,"lo":2.22e46,"hi":3.09e46},{"t":22.96,"L":2.29e46,"lo":2.0e46,"hi":2.6e46},{"t":25.42,"L":1.28e46,"lo":9.6e45,"hi":1.70e46},{"t":28.61,"L":1.52e46},{"t":30.14,"L":2.16e46,"lo":1.9e46,"hi":2.45e46},{"t":32.28,"L":7.93e45,"lo":6.2e45,"hi":1.03e46},{"t":34.34,"L":1.04e46,"lo":8.6e45,"hi":1.2e46},{"t":38.96,"L":8.80e45,"lo":7.8e45,"hi":9.9e45},{"t":49.5,"L":5.11e45,"lo":4.6e45,"hi":5.7e45},{"t":71.0,"L":2.94e45,"lo":2.3e45,"hi":3.7e45},{"t":84.4,"L":1.12e45,"lo":7.7e44,"hi":1.13e45},{"t":85.8,"L":1.50e45},{"t":86.9,"L":1.32e45},{"t":300,"L":1.32e45}
  ],
  "cmc": [
    {"t":2.43,"L":3.01e47},{"t":5.30,"L":5.25e46},{"t":5.90,"L":4.37e46},{"t":6.64,"L":2.44e46},{"t":6.79,"L":2.19e46},{"t":7.10,"L":2.72e46},{"t":7.64,"L":2.77e46},{"t":8.13,"L":2.25e46},{"t":9.90,"L":1.00e46},{"t":10.93,"L":1.03e46},{"t":12.37,"L":5.58e45},{"t":13.72,"L":5.58e45}
  ],
  "cmcband": [
    {"t":2.10,"hi":5.42e47,"lo":2.01e47},{"t":2.34,"hi":5.42e47,"lo":1.54e47},{"t":2.49,"hi":5.42e47,"lo":1.38e47},{"t":2.78,"hi":4.55e47,"lo":1.16e47},{"t":3.15,"hi":3.49e47,"lo":9.7e46},{"t":3.55,"hi":2.51e47,"lo":7.9e46},{"t":4.02,"hi":1.80e47,"lo":6.38e46},{"t":4.57,"hi":1.38e47,"lo":5.1e46},{"t":5.14,"hi":1.08e47,"lo":4.1e46},{"t":5.53,"hi":9.30e46,"lo":3.28e46},{"t":6.14,"hi":7.9e46,"lo":2.48e46},{"t":6.90,"hi":5.98e46,"lo":1.60e46},{"t":8.44,"hi":3.3e46,"lo":8.8e45},{"t":10.45,"hi":1.50e46,"lo":4.75e45},{"t":12.49,"hi":1.03e46,"lo":2.86e45},{"t":14.92,"hi":7.38e45,"lo":2.67e45}
  ],
  "legend": [
    {"series":"Swift J1644+57"},{"series":"Swift J2058+05"},{"series":"AT2022cmc"},{"series":"AT2018cow-like"},{"series":"GRBs"}
  ]
},
"layer": [
  {
    "data": {"name": "grb"},
    "mark": {"type": "line", "clip": true, "color": "#d3d3d3", "strokeWidth": 1.3},
    "encoding": {
      "x": {"field": "t", "type": "quantitative", "scale": {"type": "log", "domain": [1.991, 143.8], "nice": false},
            "axis": {"orient": "bottom", "values": [10, 100], "labelPadding": 9, "labelExpr": "'10' + ['¹','²'][round(log(datum.value)/LN10)-1]", "title": "Rest-frame Days Since Discovery", "titlePadding": 6}},
      "y": {"field": "L", "type": "quantitative", "scale": {"type": "log", "domain": [9.29e40, 1.197e48], "nice": false},
            "axis": {"orient": "left", "values": [1e41,1e42,1e43,1e44,1e45,1e46,1e47,1e48], "labelPadding": 8, "labelExpr": "'10' + ['⁴¹','⁴²','⁴³','⁴⁴','⁴⁵','⁴⁶','⁴⁷','⁴⁸'][round(log(datum.value)/LN10)-41]", "title": "Observed 0.3--10 keV isotropic equivalent luminosity (erg s⁻¹)", "titleFontSize": 25, "titlePadding": 6}},
      "detail": {"field": "g"}
    }
  },
  {
    "data": {"name": "grberr"},
    "mark": {"type": "rule", "clip": true, "color": "#d3d3d3", "strokeWidth": 1.2},
    "encoding": {
      "x": {"field": "t", "type": "quantitative", "scale": {"type": "log", "domain": [1.991, 143.8], "nice": false}, "axis": null},
      "y": {"field": "lo", "type": "quantitative", "scale": {"type": "log", "domain": [9.29e40, 1.197e48], "nice": false}, "axis": null},
      "y2": {"field": "hi"}
    }
  },
  {
    "data": {"name": "cow"},
    "mark": {"type": "line", "clip": true, "color": "#808080", "strokeWidth": 2},
    "encoding": {
      "x": {"field": "t", "type": "quantitative", "scale": {"type": "log", "domain": [1.991, 143.8], "nice": false}, "axis": null},
      "y": {"field": "L", "type": "quantitative", "scale": {"type": "log", "domain": [9.29e40, 1.197e48], "nice": false}, "axis": null},
      "detail": {"field": "g"}
    }
  },
  {
    "data": {"name": "cowd"},
    "mark": {"type": "line", "clip": true, "color": "#808080", "strokeWidth": 2.5, "strokeDash": [2.5, 4]},
    "encoding": {
      "x": {"field": "t", "type": "quantitative", "scale": {"type": "log", "domain": [1.991, 143.8], "nice": false}, "axis": null},
      "y": {"field": "L", "type": "quantitative", "scale": {"type": "log", "domain": [9.29e40, 1.197e48], "nice": false}, "axis": null}
    }
  },
  {
    "data": {"name": "cowerr"},
    "mark": {"type": "rule", "clip": true, "color": "#808080", "strokeWidth": 2},
    "encoding": {
      "x": {"field": "t", "type": "quantitative", "scale": {"type": "log", "domain": [1.991, 143.8], "nice": false}, "axis": null},
      "y": {"field": "lo", "type": "quantitative", "scale": {"type": "log", "domain": [9.29e40, 1.197e48], "nice": false}, "axis": null},
      "y2": {"field": "hi"}
    }
  },
  {
    "data": {"name": "j1644"},
    "mark": {"type": "area", "clip": true, "color": "#6495ED", "opacity": 0.68},
    "encoding": {
      "x": {"field": "t", "type": "quantitative", "scale": {"type": "log", "domain": [1.991, 143.8], "nice": false}, "axis": null},
      "y": {"field": "hi", "type": "quantitative", "scale": {"type": "log", "domain": [9.29e40, 1.197e48], "nice": false}, "axis": null},
      "y2": {"field": "lo"}
    }
  },
  {
    "data": {"name": "j1644s"},
    "mark": {"type": "rule", "clip": true, "color": "#6495ED", "strokeWidth": 1.2, "strokeDash": [2, 1.5]},
    "encoding": {
      "x": {"field": "t", "type": "quantitative", "scale": {"type": "log", "domain": [1.991, 143.8], "nice": false}, "axis": null},
      "y": {"field": "lo", "type": "quantitative", "scale": {"type": "log", "domain": [9.29e40, 1.197e48], "nice": false}, "axis": null},
      "y2": {"field": "hi"}
    }
  },
  {
    "data": {"name": "j1644"},
    "mark": {"type": "circle", "clip": true, "color": "#6495ED", "size": 12, "opacity": 1},
    "encoding": {
      "x": {"field": "t", "type": "quantitative", "scale": {"type": "log", "domain": [1.991, 143.8], "nice": false}, "axis": null},
      "y": {"field": "lo", "type": "quantitative", "scale": {"type": "log", "domain": [9.29e40, 1.197e48], "nice": false}, "axis": null}
    }
  },
  {
    "data": {"name": "j1644"},
    "mark": {"type": "circle", "clip": true, "color": "#6495ED", "size": 12, "opacity": 1},
    "encoding": {
      "x": {"field": "t", "type": "quantitative", "scale": {"type": "log", "domain": [1.991, 143.8], "nice": false}, "axis": null},
      "y": {"field": "hi", "type": "quantitative", "scale": {"type": "log", "domain": [9.29e40, 1.197e48], "nice": false}, "axis": null}
    }
  },
  {
    "data": {"name": "j2058"},
    "mark": {"type": "line", "clip": true, "color": "#800080", "strokeWidth": 2.5},
    "encoding": {
      "x": {"field": "t", "type": "quantitative", "scale": {"type": "log", "domain": [1.991, 143.8], "nice": false}, "axis": null},
      "y": {"field": "L", "type": "quantitative", "scale": {"type": "log", "domain": [9.29e40, 1.197e48], "nice": false}, "axis": null}
    }
  },
  {
    "data": {"name": "j2058"},
    "transform": [{"filter": "isValid(datum.lo)"}],
    "mark": {"type": "rule", "clip": true, "color": "#800080", "strokeWidth": 2},
    "encoding": {
      "x": {"field": "t", "type": "quantitative", "scale": {"type": "log", "domain": [1.991, 143.8], "nice": false}, "axis": null},
      "y": {"field": "lo", "type": "quantitative", "scale": {"type": "log", "domain": [9.29e40, 1.197e48], "nice": false}, "axis": null},
      "y2": {"field": "hi"}
    }
  },
  {
    "data": {"name": "j2058"},
    "mark": {"type": "point", "clip": true, "shape": "diamond", "filled": true, "color": "#800080", "size": 55, "opacity": 1},
    "encoding": {
      "x": {"field": "t", "type": "quantitative", "scale": {"type": "log", "domain": [1.991, 143.8], "nice": false}, "axis": null},
      "y": {"field": "L", "type": "quantitative", "scale": {"type": "log", "domain": [9.29e40, 1.197e48], "nice": false}, "axis": null}
    }
  },
  {
    "data": {"name": "cmcband"},
    "mark": {"type": "area", "clip": true, "color": "#ffff00", "opacity": 0.5},
    "encoding": {
      "x": {"field": "t", "type": "quantitative", "scale": {"type": "log", "domain": [1.991, 143.8], "nice": false}, "axis": null},
      "y": {"field": "hi", "type": "quantitative", "scale": {"type": "log", "domain": [9.29e40, 1.197e48], "nice": false}, "axis": null},
      "y2": {"field": "lo"}
    }
  },
  {
    "data": {"name": "cmc"},
    "mark": {"type": "line", "clip": true, "color": "#ff7a00", "strokeWidth": 2},
    "encoding": {
      "x": {"field": "t", "type": "quantitative", "scale": {"type": "log", "domain": [1.991, 143.8], "nice": false}, "axis": null},
      "y": {"field": "L", "type": "quantitative", "scale": {"type": "log", "domain": [9.29e40, 1.197e48], "nice": false}, "axis": null}
    }
  },
  {
    "data": {"name": "cmc"},
    "mark": {"type": "circle", "clip": true, "size": 200, "fill": "#ff8000", "stroke": "#8a7400", "strokeWidth": 1.2, "opacity": 1},
    "encoding": {
      "x": {"field": "t", "type": "quantitative", "scale": {"type": "log", "domain": [1.991, 143.8], "nice": false}, "axis": null},
      "y": {"field": "L", "type": "quantitative", "scale": {"type": "log", "domain": [9.29e40, 1.197e48], "nice": false}, "axis": null}
    }
  },
  {
    "data": {"name": "frame"},
    "mark": {"type": "line", "clip": true, "color": "#000000", "strokeWidth": 2.2},
    "encoding": {
      "x": {"field": "t", "type": "quantitative", "scale": {"type": "log", "domain": [1.991, 143.8], "nice": false}, "axis": null},
      "y": {"field": "L", "type": "quantitative", "scale": {"type": "log", "domain": [9.29e40, 1.197e48], "nice": false}, "axis": null},
      "order": {"field": "k", "type": "quantitative"}
    }
  },
  {
    "data": {"name": "hticks"},
    "mark": {"type": "rule", "clip": true, "color": "#000000", "strokeWidth": 1},
    "encoding": {
      "x": {"field": "x1", "type": "quantitative", "scale": {"type": "log", "domain": [1.991, 143.8], "nice": false}, "axis": null},
      "x2": {"field": "x2"},
      "y": {"field": "y", "type": "quantitative", "scale": {"type": "log", "domain": [9.29e40, 1.197e48], "nice": false}, "axis": null}
    }
  },
  {
    "data": {"name": "vticks"},
    "mark": {"type": "rule", "clip": true, "color": "#000000", "strokeWidth": 1},
    "encoding": {
      "x": {"field": "x", "type": "quantitative", "scale": {"type": "log", "domain": [1.991, 143.8], "nice": false}, "axis": null},
      "y": {"field": "y1", "type": "quantitative", "scale": {"type": "log", "domain": [9.29e40, 1.197e48], "nice": false}, "axis": null},
      "y2": {"field": "y2"}
    }
  },
  {
    "data": {"name": "legend"},
    "mark": {"type": "point", "filled": true, "opacity": 0},
    "encoding": {
      "color": {"field": "series", "type": "nominal",
        "scale": {"domain": ["Swift J1644+57","Swift J2058+05","AT2022cmc","AT2018cow-like","GRBs"], "range": ["#6495ED","#800080","#ff0000","#808080","#d3d3d3"]},
        "legend": {"title": null, "orient": "none", "legendX": 358, "legendY": 9, "symbolSize": 400, "symbolOffset": 13.5, "labelOffset": 28.5, "labelFont": "Liberation Serif", "labelFontSize": 20.5, "labelColor": "#000", "rowPadding": 1, "padding": 6, "fillColor": "rgba(255,255,255,0.8)", "strokeColor": "#cccccc", "cornerRadius": 4, "symbolOpacity": 1, "labelLimit": 0, "zindex": 3,
          "encode": {"symbols": {"update": {
            "opacity": {"value": 1}, "fillOpacity": {"value": 1}, "strokeOpacity": {"value": 1},
            "stroke": {"signal": "datum.value === 'Swift J1644+57' ? '#6495ED' : datum.value === 'Swift J2058+05' ? '#800080' : datum.value === 'AT2022cmc' ? '#ff0000' : datum.value === 'AT2018cow-like' ? '#808080' : '#d3d3d3'"},
            "strokeWidth": {"signal": "datum.value === 'GRBs' ? 1.2 : datum.value === 'AT2018cow-like' ? 2 : datum.value === 'Swift J1644+57' ? 3 : 2.5"}
          }}}
        }},
      "shape": {"field": "series", "type": "nominal",
        "scale": {"domain": ["Swift J1644+57","Swift J2058+05","AT2022cmc","AT2018cow-like","GRBs"],
                  "range": ["M-2.15,0H2.15M0,-1.1V1.1M0.25,0A0.25,0.25,0,1,1,-0.25,0A0.25,0.25,0,1,1,0.25,0Z",
                            "M-2.15,0H2.15M0,-1V1M0,-0.4L0.3,0L0,0.4L-0.3,0Z",
                            "M-2.15,0H2.15M0.75,0A0.75,0.75,0,1,1,-0.75,0A0.75,0.75,0,1,1,0.75,0Z",
                            "M-2.15,0H2.15M0,-1.15V1.15",
                            "M-2.15,0H2.15M0,-1V1"]}}
    }
  }
],
"resolve": {"axis": {"x": "independent", "y": "independent"}}
}
